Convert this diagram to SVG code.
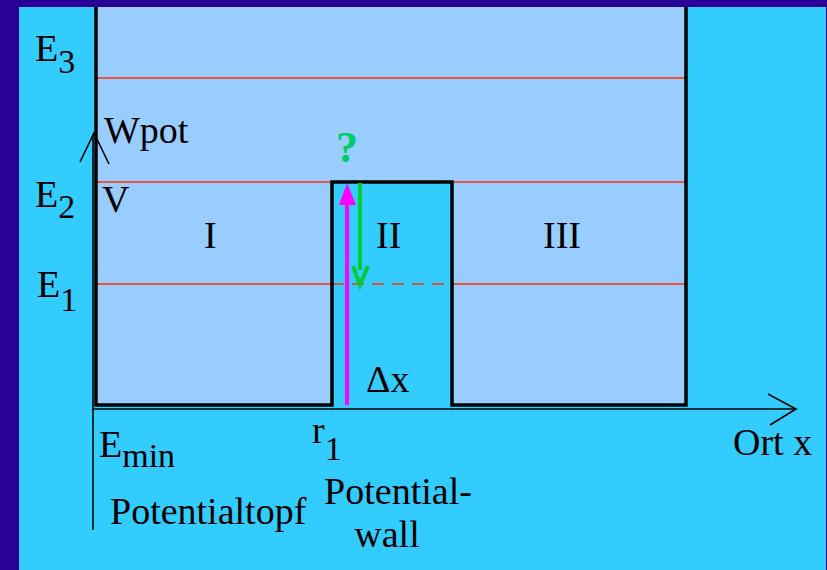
<svg xmlns="http://www.w3.org/2000/svg" width="827" height="570" viewBox="0 0 827 570">
<style>
text{font-family:"Liberation Serif","Times New Roman",serif;fill:#000;}
.lbl{font-size:38px;}
.sub{font-size:34px;}
.lvl{stroke:#FF3300;stroke-width:1.6;fill:none;}
.ax{stroke:#000;stroke-width:1.6;fill:none;}
</style>
<rect x="0" y="0" width="827" height="570" fill="#2A0096"/>
<rect x="19" y="7" width="807" height="563" fill="#33CCFF"/>
<g id="pot">
<path d="M96,7 L686,7 L686,405 L452,405 L452,182 L332,182 L332,405 L96,405 Z" fill="#99CCFF"/>
</g>
<g id="levels">
<line class="lvl" x1="97" y1="78" x2="685" y2="78"/>
<line class="lvl" x1="97" y1="182" x2="332" y2="182"/>
<line class="lvl" x1="452" y1="182" x2="685" y2="182"/>
<line class="lvl" x1="97" y1="284" x2="332" y2="284"/>
<line class="lvl" x1="332" y1="284" x2="452" y2="284" stroke-dasharray="12,8"/>
<line class="lvl" x1="452" y1="284" x2="685" y2="284"/>
</g>
<g id="outline">
<path d="M96,7 L96,405 L332,405 L332,182 L452,182 L452,405 L686,405 L686,7" fill="none" stroke="#000" stroke-width="3.5"/>
</g>
<g id="axes">
<line class="ax" x1="93" y1="134" x2="93" y2="530"/>
<polyline class="ax" points="80,162 94,133 109,164" stroke-width="2.5"/>
<line class="ax" x1="93" y1="409" x2="795" y2="409"/>
<polyline class="ax" points="768,394 796,409 770,425"/>
</g>
<g id="connectors">
<line x1="347" y1="405" x2="347" y2="200" stroke="#FF00FF" stroke-width="4"/>
<polygon points="347,183 339,205 356,205" fill="#FF00FF"/>
<line x1="360" y1="183" x2="360" y2="270" stroke="#00CC33" stroke-width="4"/>
<polyline points="353,266 360,285 368,266" fill="none" stroke="#00CC33" stroke-width="4"/>
</g>
<g id="labels">
<text class="lbl" x="35" y="61">E<tspan class="sub" dy="12">3</tspan></text>
<text class="lbl" x="35" y="207">E<tspan class="sub" dy="11">2</tspan></text>
<text class="lbl" x="37" y="297">E<tspan class="sub" dy="14">1</tspan></text>
<text class="lbl" x="104" y="143" font-size="35">Wpot</text>
<text class="lbl" x="102" y="212">V</text>
<text class="lbl" x="204" y="248" font-size="33">I</text>
<text class="lbl" x="376" y="248" font-size="33">II</text>
<text class="lbl" x="543" y="248" font-size="33">III</text>
<text x="347" y="162" font-size="44" font-weight="bold" style="fill:#00CC66" text-anchor="middle">?</text>
<text class="lbl" x="366" y="392" font-size="31">Δx</text>
<text class="lbl" x="99" y="457">E<tspan class="sub" dy="10">min</tspan></text>
<text class="lbl" x="312" y="443">r<tspan class="sub" dy="17">1</tspan></text>
<text class="lbl" x="110" y="524">Potentialtopf</text>
<text class="lbl" x="398" y="504" text-anchor="middle">Potential-</text>
<text class="lbl" x="387" y="547" text-anchor="middle">wall</text>
<text class="lbl" x="733" y="455">Ort x</text>
</g>
</svg>
